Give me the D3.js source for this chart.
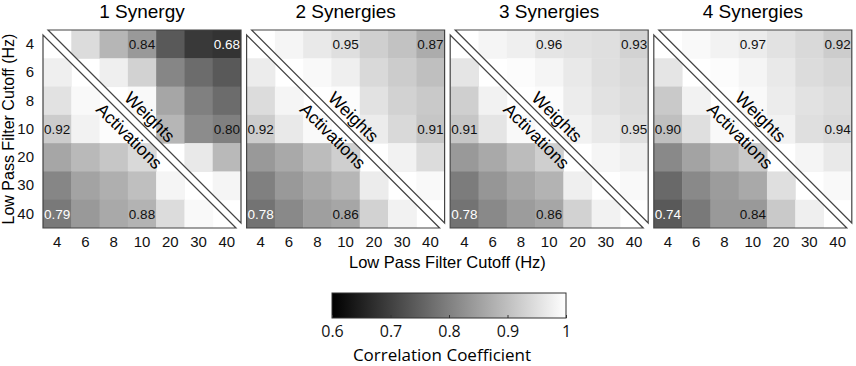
<!DOCTYPE html>
<html>
<head>
<meta charset="utf-8">
<script src="https://cdn.jsdelivr.net/npm/d3@7"></script>
<style>
  body { margin: 0; background: #fff; }
  svg { display: block; }
  text { font-family: "Liberation Sans", Arial, sans-serif; }
</style>
</head>
<body>
<div id="chart"></div>
<script>
// Data
const freqs = ['4', '6', '8', '10', '20', '30', '40'];
const panelTitles = ['1 Synergy', '2 Synergies', '3 Synergies', '4 Synergies'];

// rows = y cutoff, cols = x cutoff; upper triangle = weights, lower = activations
const synergy1 = [
    [1.00, 0.945, 0.885, 0.84, 0.74, 0.69, 0.68],
    [0.975, 1.00, 0.975, 0.93, 0.81, 0.77, 0.74],
    [0.955, 0.99, 1.00, 0.99, 0.86, 0.80, 0.77],
    [0.92, 0.98, 0.995, 1.00, 0.885, 0.82, 0.80],
    [0.86, 0.89, 0.91, 0.94, 1.00, 0.965, 0.89],
    [0.81, 0.855, 0.875, 0.90, 0.985, 1.00, 0.985],
    [0.79, 0.84, 0.865, 0.88, 0.945, 0.99, 1.00]
];
const synergy2 = [
    [1.00, 0.985, 0.965, 0.95, 0.925, 0.905, 0.87],
    [0.97, 1.00, 0.99, 0.975, 0.94, 0.92, 0.90],
    [0.945, 0.985, 1.00, 0.995, 0.955, 0.93, 0.915],
    [0.92, 0.965, 0.99, 1.00, 0.97, 0.94, 0.91],
    [0.84, 0.865, 0.895, 0.925, 1.00, 0.98, 0.945],
    [0.80, 0.84, 0.865, 0.885, 0.97, 1.00, 0.99],
    [0.78, 0.815, 0.85, 0.86, 0.93, 0.98, 1.00]
];
const synergy3 = [
    [1.00, 0.985, 0.975, 0.96, 0.955, 0.95, 0.93],
    [0.96, 1.00, 0.995, 0.985, 0.965, 0.95, 0.94],
    [0.925, 0.98, 1.00, 0.995, 0.97, 0.955, 0.945],
    [0.91, 0.96, 0.99, 1.00, 0.98, 0.965, 0.95],
    [0.84, 0.865, 0.895, 0.925, 1.00, 0.985, 0.975],
    [0.795, 0.835, 0.86, 0.88, 0.975, 1.00, 0.99],
    [0.78, 0.815, 0.845, 0.86, 0.93, 0.98, 1.00]
];
const synergy4 = [
    [1.00, 0.99, 0.98, 0.97, 0.955, 0.94, 0.92],
    [0.96, 1.00, 0.995, 0.985, 0.965, 0.945, 0.935],
    [0.915, 0.98, 1.00, 0.99, 0.97, 0.955, 0.945],
    [0.90, 0.95, 0.99, 1.00, 0.98, 0.95, 0.94],
    [0.815, 0.855, 0.885, 0.915, 1.00, 0.985, 0.965],
    [0.765, 0.815, 0.845, 0.865, 0.95, 1.00, 0.99],
    [0.74, 0.79, 0.84, 0.84, 0.915, 0.975, 1.00]
];
const panels = [synergy1, synergy2, synergy3, synergy4];

// cells that carry a printed value [row, col]
const labelledCells = [[0, 3], [0, 6], [3, 6], [3, 0], [6, 0], [6, 3]];

const colorbarTicks = [0.6, 0.7, 0.8, 0.9, 1];

function draw() {
    // Dimensions
    const dimensions = {
        width: 856,
        height: 366,
        left: 43,
        top: 30,
        size: 198,
        step: 203.6,
        gap: 5,
    };
    const size = dimensions.size;
    const gap = dimensions.gap;

    const svg = d3.select('#chart')
        .append('svg')
        .attr('width', dimensions.width)
        .attr('height', dimensions.height);

    const defs = svg.append('defs');

    // Scales
    const color = d3.scaleLinear()
        .domain([0.6, 1])
        .range(['#000000', '#ffffff'])
        .clamp(true);

    const xScale = d3.scaleBand().domain(freqs).range([0, size]);
    const yScale = d3.scaleBand().domain(freqs).range([0, size]);

    const fmt = d3.format('.2f');
    const isLabelled = (i, j) => labelledCells.some(c => c[0] === i && c[1] === j);

    panels.forEach((matrix, k) => {
        const x0 = dimensions.left + k * dimensions.step;
        const container = svg.append('g')
            .attr('transform', `translate(${x0}, ${dimensions.top})`);

        const upperPts = [[gap, 0], [size, 0], [size, size - gap]];
        const lowerPts = [[0, gap], [0, size], [size - gap, size]];

        defs.append('clipPath').attr('id', `upper-${k}`)
            .append('polygon').attr('points', upperPts.join(' '));
        defs.append('clipPath').attr('id', `lower-${k}`)
            .append('polygon').attr('points', lowerPts.join(' '));

        const cells = [];
        matrix.forEach((row, i) => row.forEach((v, j) => {
            if (i !== j) cells.push({ i, j, v });
        }));

        const upperG = container.append('g').attr('clip-path', `url(#upper-${k})`);
        const lowerG = container.append('g').attr('clip-path', `url(#lower-${k})`);

        [[upperG, d => d.j > d.i], [lowerG, d => d.j < d.i]].forEach(([grp, test]) => {
            grp.selectAll('rect')
                .data(cells.filter(test))
                .join('rect')
                .attr('x', d => xScale(freqs[d.j]))
                .attr('y', d => yScale(freqs[d.i]))
                .attr('width', xScale.bandwidth() + 0.5)
                .attr('height', yScale.bandwidth() + 0.5)
                .attr('fill', d => color(d.v));
        });

        // triangle outlines
        container.append('polygon')
            .attr('points', upperPts.join(' '))
            .attr('fill', 'none')
            .attr('stroke', '#444')
            .attr('stroke-width', 1.2);
        container.append('polygon')
            .attr('points', lowerPts.join(' '))
            .attr('fill', 'none')
            .attr('stroke', '#444')
            .attr('stroke-width', 1.2);

        // values
        container.selectAll('.val')
            .data(cells.filter(d => isLabelled(d.i, d.j)))
            .join('text')
            .attr('class', 'val')
            .attr('x', d => xScale(freqs[d.j]) + xScale.bandwidth() / 2)
            .attr('y', d => yScale(freqs[d.i]) + yScale.bandwidth() / 2)
            .attr('text-anchor', 'middle')
            .attr('dy', '0.36em')
            .style('font-size', '13.5px')
            .attr('fill', d => d.v < 0.8 ? '#fff' : '#111')
            .text(d => fmt(d.v));

        // diagonal captions
        const diag = container.append('g')
            .attr('transform', `translate(${size / 2}, ${size / 2}) rotate(45)`);
        diag.append('text')
            .attr('x', -3)
            .attr('y', -8)
            .attr('text-anchor', 'middle')
            .style('font-size', '17.5px')
            .text('Weights');
        diag.append('text')
            .attr('x', -4)
            .attr('y', 20)
            .attr('text-anchor', 'middle')
            .style('font-size', '17.5px')
            .text('Activations');

        // title
        container.append('text')
            .attr('x', size / 2)
            .attr('y', -12)
            .attr('text-anchor', 'middle')
            .style('font-size', '19px')
            .text(panelTitles[k]);

        // x axis
        const xAxisGroup = container.append('g')
            .attr('transform', `translate(0, ${size})`)
            .call(d3.axisBottom(xScale).tickSize(0).tickPadding(8));
        xAxisGroup.select('.domain').remove();
        xAxisGroup.selectAll('text')
            .style('font-size', '15px')
            .style('font-family', '"Liberation Sans", Arial, sans-serif')
            .attr('fill', '#111');

        if (k === 0) {
            const yAxisGroup = container.append('g')
                .call(d3.axisLeft(yScale).tickSize(0).tickPadding(9));
            yAxisGroup.select('.domain').remove();
            yAxisGroup.selectAll('text')
                .style('font-size', '15px')
                .style('font-family', '"Liberation Sans", Arial, sans-serif')
                .attr('fill', '#111');
        }
    });

    // axis titles
    svg.append('text')
        .attr('transform', `translate(14, ${dimensions.top + size / 2}) rotate(-90)`)
        .attr('text-anchor', 'middle')
        .style('font-size', '16px')
        .text('Low Pass Filter Cutoff (Hz)');

    svg.append('text')
        .attr('x', dimensions.left + 1.5 * dimensions.step + size / 2)
        .attr('y', 268)
        .attr('text-anchor', 'middle')
        .style('font-size', '16.5px')
        .text('Low Pass Filter Cutoff (Hz)');

    // Colorbar
    const cb = { x: 332, y: 293, w: 234, h: 25 };
    const cbScale = d3.scaleLinear()
        .domain([0.6, 1])
        .range([cb.x, cb.x + cb.w]);

    const grad = defs.append('linearGradient').attr('id', 'cbgrad');
    grad.selectAll('stop')
        .data(colorbarTicks)
        .join('stop')
        .attr('offset', d => (cbScale(d) - cb.x) / cb.w)
        .attr('stop-color', d => color(d));

    svg.append('rect')
        .attr('x', cb.x)
        .attr('y', cb.y)
        .attr('width', cb.w)
        .attr('height', cb.h)
        .attr('fill', 'url(#cbgrad)')
        .attr('stroke', '#333')
        .attr('stroke-width', 1);

    const cbAxis = svg.append('g')
        .attr('transform', `translate(0, ${cb.y + cb.h})`)
        .call(d3.axisBottom(cbScale)
            .tickValues(colorbarTicks)
            .tickSizeInner(-3)
            .tickSizeOuter(0)
            .tickPadding(8)
            .tickFormat(d3.format('~g')));
    cbAxis.select('.domain').remove();
    cbAxis.selectAll('line').attr('stroke', '#333');
    cbAxis.selectAll('text')
        .style('font-size', '16px')
        .style('font-family', '"Open Sans", sans-serif')
        .attr('fill', '#111');

    svg.append('text')
        .attr('x', cb.x + cb.w / 2 - 7)
        .attr('y', 361)
        .attr('text-anchor', 'middle')
        .style('font-size', '17px')
        .style('font-family', '"Open Sans", sans-serif')
        .text('Correlation Coefficient');
}

draw();
</script>
</body>
</html>
